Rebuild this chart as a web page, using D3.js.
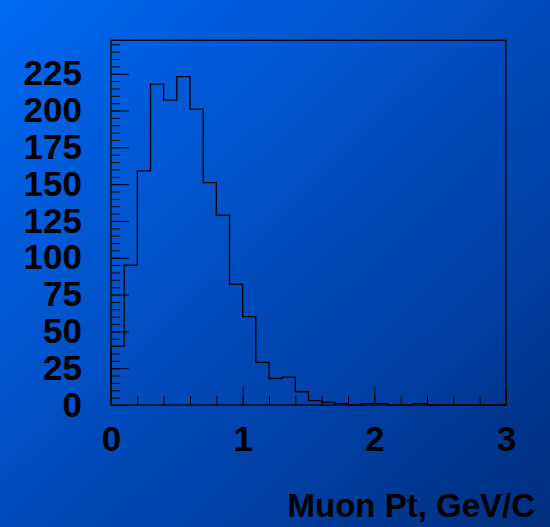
<!DOCTYPE html>
<html>
<head>
<meta charset="utf-8">
<script src="https://cdn.jsdelivr.net/npm/d3@7"></script>
<style>
  html, body { margin: 0; padding: 0; }
  svg { display: block; }
  .axis text { font-family: "Liberation Sans", Arial, sans-serif; font-weight: bold; font-size: 35px; fill: #000; }
</style>
</head>
<body>
<script>
// histogram of muon Pt, 30 bins of 0.1 GeV/c
var binWidth = 0.1;
var counts = [40, 95, 159, 218, 207, 223, 201, 151, 129, 82,
              60, 29, 18, 19, 9, 3, 2, 1, 0, 1,
              1, 0, 0, 1, 0, 0, 0, 0, 0, 0];
var xTicks = [0, 1, 2, 3];
var yTicks = [0, 25, 50, 75, 100, 125, 150, 175, 200, 225];
var xTitle = "Muon Pt, GeV/C";

var w = 550, h = 527;
var margin = {top: 40.3, right: 44, bottom: 122, left: 111};

var x = d3.scaleLinear().domain([0, 3]).range([margin.left, w - margin.right]);
var y = d3.scaleLinear().domain([0, 247.7]).range([h - margin.bottom, margin.top]);

var svg = d3.select("body").append("svg")
    .attr("width", w)
    .attr("height", h);

// background gradient
var grad = svg.append("defs").append("linearGradient")
    .attr("id", "bg")
    .attr("x1", "0%").attr("y1", "0%")
    .attr("x2", "100%").attr("y2", "100%");
grad.append("stop").attr("offset", "0%").attr("stop-color", "#0068f2");
grad.append("stop").attr("offset", "50%").attr("stop-color", "#004bbc");
grad.append("stop").attr("offset", "100%").attr("stop-color", "#002e7e");

svg.append("rect")
    .attr("width", w)
    .attr("height", h)
    .attr("fill", "url(#bg)");

// minor ticks (no labels)
svg.append("g")
    .attr("transform", "translate(" + x(0) + ",0)")
    .call(d3.axisLeft(y).tickValues(d3.range(0, 247, 5)).tickSize(-9).tickFormat(""))
    .call(function(g) { g.select(".domain").remove(); })
    .selectAll("line").attr("stroke", "#000");

svg.append("g")
    .attr("transform", "translate(0," + y(0) + ")")
    .call(d3.axisBottom(x).tickValues(d3.range(0, 3.01, 0.2)).tickSize(-9).tickFormat(""))
    .call(function(g) { g.select(".domain").remove(); })
    .selectAll("line").attr("stroke", "#000");

// major ticks with labels
svg.append("g")
    .attr("class", "axis")
    .attr("transform", "translate(" + x(0) + ",0)")
    .call(d3.axisLeft(y).tickValues(yTicks).tickSize(-18).tickPadding(29))
    .call(function(g) { g.select(".domain").remove(); })
    .selectAll("line").attr("stroke", "#000");

svg.append("g")
    .attr("class", "axis")
    .attr("transform", "translate(0," + y(0) + ")")
    .call(d3.axisBottom(x).tickValues(xTicks).tickSize(-18).tickPadding(21).tickFormat(d3.format("d")))
    .call(function(g) { g.select(".domain").remove(); })
    .selectAll("line").attr("stroke", "#000");

// frame
svg.append("rect")
    .attr("x", x(0))
    .attr("y", y.range()[1])
    .attr("width", x(3) - x(0))
    .attr("height", y(0) - y.range()[1])
    .attr("fill", "none")
    .attr("stroke", "#000")
    .attr("stroke-width", 1.3);

// histogram outline
var pts = [[0, 0]];
counts.forEach(function(c, i) {
  pts.push([i * binWidth, c]);
  pts.push([(i + 1) * binWidth, c]);
});
pts.push([counts.length * binWidth, 0]);

svg.append("path")
    .datum(pts)
    .attr("fill", "none")
    .attr("stroke", "#000")
    .attr("stroke-width", 1.3)
    .attr("d", d3.line()
        .x(function(d) { return x(d[0]); })
        .y(function(d) { return y(d[1]); }));

// x title
svg.append("text")
    .attr("x", 535)
    .attr("y", 517)
    .attr("text-anchor", "end")
    .style("font-family", "'Liberation Sans', Arial, sans-serif")
    .style("font-weight", "bold")
    .style("font-size", "33px")
    .text(xTitle);
</script>
</body>
</html>
